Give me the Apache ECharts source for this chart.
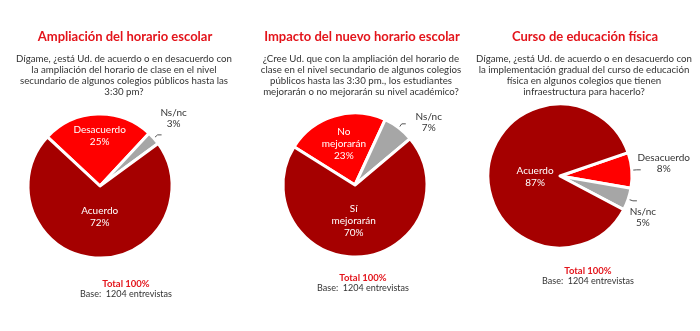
<!DOCTYPE html>
<html><head><meta charset="utf-8">
<script src="https://cdn.jsdelivr.net/npm/echarts@6/dist/echarts.min.js"></script>
<style>html,body{margin:0;padding:0;background:#fff}#c{width:700px;height:331px}</style>
</head><body><div id="c"></div>
<script>
const titles = ['Ampliación del horario escolar', 'Impacto del nuevo horario escolar', 'Curso de educación física'];
const questions = [
  'Dígame, ¿está Ud. de acuerdo o en desacuerdo con\nla ampliación del horario de clase en el nivel\nsecundario de algunos colegios públicos hasta las\n3:30 pm?',
  '¿Cree Ud. que con la ampliación del horario de\nclase en el nivel secundario de algunos colegios\npúblicos hasta las 3:30 pm., los estudiantes\nmejorarán o no mejorarán su nivel académico?',
  'Dígame, ¿está Ud. de acuerdo o en desacuerdo con\nla implementación gradual del curso de educación\nfísica en algunos colegios que tienen\ninfraestructura para hacerlo?'
];
const pie1Names = ['Desacuerdo', 'Ns/nc', 'Acuerdo'];
const pie1Values = [25, 3, 72];
const pie2Names = ['No\nmejorarán', 'Ns/nc', 'Sí\nmejorarán'];
const pie2Values = [23, 7, 70];
const pie3Names = ['Desacuerdo', 'Ns/nc', 'Acuerdo'];
const pie3Values = [8, 5, 87];
const totalText = 'Total 100%';
const baseText = 'Base:  1204 entrevistas';

const FONT = 'Lato';
const DARK = '#a50000', RED = '#ff0000', GRAY = '#a6a6a6', TITLE = '#e3141b', TXT = '#333';

const cx = [100, 355, 560];
const cy = [186, 185, 176];
const titleX = [120, 357, 580];
const footY = [274, 268, 261];
const footX = [121, 358, 583];

function inLabel(offset) {
  return { position: 'inside', color: '#fff', fontSize: 10, fontFamily: FONT, lineHeight: 12, offset: offset };
}
function outLabel() {
  return { position: 'outside', color: TXT, fontSize: 10, fontFamily: FONT, lineHeight: 11 };
}

// label nudges (dx, dy) for outside labels, per pie and slice
const nudges = [
  [null, [7, -17], null],
  [null, [18, -2], null],
  [[18, -7], [1, 16], null]
];

const pies = [
  { names: pie1Names, values: pie1Values, start: 137,
    styles: [{ color: RED, label: inLabel([1, -11]) }, { color: GRAY, label: outLabel() }, { color: DARK, label: inLabel([2, -8]) }] },
  { names: pie2Names, values: pie2Values, start: 148,
    styles: [{ color: RED, label: inLabel([0, -4]) }, { color: GRAY, label: outLabel() }, { color: DARK, label: inLabel([-4, -3]) }] },
  { names: pie3Names, values: pie3Values, start: 19,
    styles: [{ color: RED, label: outLabel() }, { color: GRAY, label: outLabel() }, { color: DARK, label: inLabel([14, 4]) }] }
];

const series = pies.map((p, i) => ({
  type: 'pie',
  center: [cx[i], cy[i]],
  radius: 72,
  startAngle: p.start,
  clockwise: true,
  animation: false,
  avoidLabelOverlap: false,
  itemStyle: { borderColor: '#fff', borderWidth: 3 },
  labelLine: { show: true, length: 5, length2: 4, lineStyle: { color: '#555', width: 1 } },
  label: { formatter: '{b}\n{c}%' },
  labelLayout: (params) => {
    const n = nudges[i][params.dataIndex];
    if (!n) return {};
    return { dx: n[0], dy: n[1], align: 'center' };
  },
  data: p.names.map((n, j) => ({
    name: n, value: p.values[j],
    itemStyle: { color: p.styles[j].color },
    label: p.styles[j].label
  }))
}));

const titleComps = [];
titles.forEach((t, i) => {
  titleComps.push({ text: t, left: titleX[i], top: 25, textAlign: 'center',
    textStyle: { color: TITLE, fontSize: 13, fontWeight: 'bold', fontFamily: FONT } });
  titleComps.push({ text: questions[i], left: titleX[i] - 1, top: 48, textAlign: 'center',
    textStyle: { color: TXT, fontSize: 9.7, fontWeight: 'normal', fontFamily: FONT, lineHeight: 11.2 } });
  titleComps.push({ text: totalText, left: footX[i], top: footY[i], textAlign: 'center',
    textStyle: { color: TITLE, fontSize: 9.5, fontWeight: 'bold', fontFamily: FONT } });
  titleComps.push({ text: baseText, left: footX[i], top: footY[i] + 11, textAlign: 'center',
    textStyle: { color: TXT, fontSize: 9, fontWeight: 'normal', fontFamily: FONT } });
});

const chart = echarts.init(document.getElementById('c'), null, { renderer: 'canvas' });
chart.setOption({ animation: false, title: titleComps, series: series });
</script></body></html>
